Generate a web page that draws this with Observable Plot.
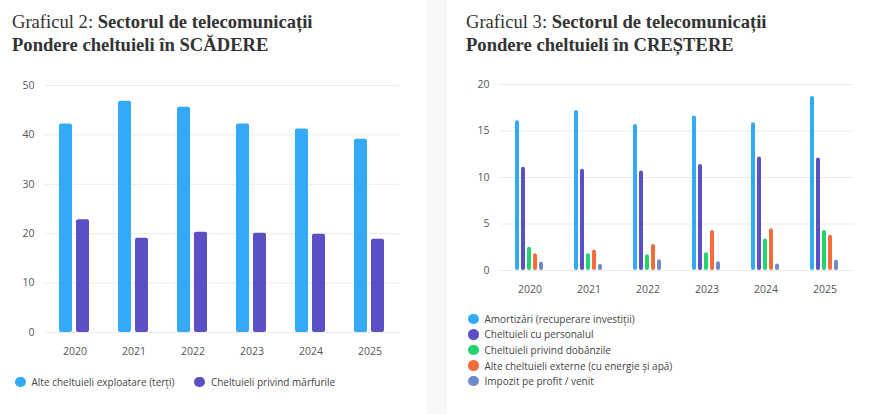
<!DOCTYPE html>
<html lang="ro">
<head>
<meta charset="utf-8">
<script src="https://cdn.jsdelivr.net/npm/d3@7"></script>
<script src="https://cdn.jsdelivr.net/npm/@observablehq/plot@0.6"></script>
<style>
  html, body { margin: 0; padding: 0; }
  body { width: 870px; height: 414px; background: #f7f7f7; position: relative; overflow: hidden; font-family: "Open Sans", "Noto Sans", sans-serif; }
  .panel { position: absolute; top: 0; height: 414px; background: #fff; }
  #left { left: 0; width: 427px; }
  #right { left: 447px; width: 423px; }
  .title { position: absolute; font-family: "Liberation Serif", "Times New Roman", serif; font-size: 18.6px; line-height: 23px; color: #333; white-space: nowrap; }
  .title b { font-weight: bold; }
  #left .title { left: 12px; top: 10px; }
  #right .title { left: 19px; top: 10px; }
  .chart { position: absolute; top: 70px; left: 0; }
  .legend { position: absolute; font-size: 10px; color: #444; }
  .legend .item { display: flex; align-items: center; white-space: nowrap; }
  .legend .dot { width: 10.5px; height: 10.5px; border-radius: 50%; margin-right: 6px; flex: none; }
  #left .legend { left: 15px; top: 375px; display: flex; }
  #left .legend .item { margin-right: 20px; }
  #right .legend { left: 21px; top: 311px; }
  #right .legend .item { height: 15.6px; }
</style>
</head>
<body>
<div class="panel" id="left">
  <div class="title">Graficul 2: <b>Sectorul de telecomunicații<br>Pondere cheltuieli în SCĂDERE</b></div>
  <div class="chart" id="chart2"></div>
  <div class="legend" id="legend2"></div>
</div>
<div class="panel" id="right">
  <div class="title">Graficul 3: <b>Sectorul de telecomunicații<br>Pondere cheltuieli în CREȘTERE</b></div>
  <div class="chart" id="chart3"></div>
  <div class="legend" id="legend3"></div>
</div>
<script>
// Years shared by both charts
const years = ["2020", "2021", "2022", "2023", "2024", "2025"];

// Graficul 2: expense shares that decreased (%)
const seriesDown = ["Alte cheltuieli exploatare (terți)", "Cheltuieli privind mărfurile"];
const colorsDown = ["#33aaf8", "#5a4fc4"];
const alteExploatare = [42.2, 46.8, 45.6, 42.2, 41.2, 39.1];
const marfuri = [22.8, 19.1, 20.3, 20.1, 19.9, 18.9];
const ticksDown = [0, 10, 20, 30, 40, 50];

// Graficul 3: expense shares that increased (%)
const seriesUp = [
  "Amortizări (recuperare investiții)",
  "Cheltuieli cu personalul",
  "Cheltuieli privind dobânzile",
  "Alte cheltuieli externe (cu energie și apă)",
  "Impozit pe profit / venit"
];
const colorsUp = ["#33aaf8", "#5a4fc4", "#22d46e", "#f56b3a", "#6d8bc6"];
const amortizari = [16.1, 17.2, 15.7, 16.6, 15.9, 18.7];
const personal = [11.1, 10.9, 10.7, 11.4, 12.2, 12.1];
const dobanzi = [2.5, 1.8, 1.7, 1.9, 3.4, 4.3];
const energie = [1.8, 2.2, 2.8, 4.3, 4.5, 3.8];
const impozit = [0.9, 0.65, 1.15, 0.95, 0.7, 1.1];
const ticksUp = [0, 5, 10, 15, 20];

function toRows(series, columns) {
  const rows = [];
  years.forEach((year, i) => {
    series.forEach((name, j) => rows.push({year, series: name, value: columns[j][i]}));
  });
  return rows;
}

const font = {fontFamily: "'Open Sans', 'Noto Sans', sans-serif", fontSize: "10.5px", color: "#555", background: "transparent", overflow: "visible"};

// Grouped bars: one facet per year, one bar per series inside each facet
function groupedBars({rows, series, colors, ticks, yMax, width, height, marginLeft, marginRight, marginTop, marginBottom, xPadInner, xPadOuter, rx}) {
  return Plot.plot({
    width, height, marginLeft, marginRight, marginTop, marginBottom,
    style: font,
    facet: {data: rows, x: "year"},
    fx: {domain: years, padding: 0, axis: "bottom", label: null, tickSize: 0, tickPadding: 15},
    x: {domain: series, axis: null, paddingInner: xPadInner, paddingOuter: xPadOuter},
    y: {domain: [0, yMax], ticks, label: null, tickSize: 0, tickPadding: 11},
    color: {domain: series, range: colors},
    marks: [
      Plot.ruleY(ticks, {stroke: "#ececec", strokeWidth: 1}),
      Plot.barY(rows, {x: "series", y: "value", fill: "series", rx})
    ]
  });
}

function legend(el, series, colors) {
  series.forEach((name, i) => {
    const item = document.createElement("div");
    item.className = "item";
    const dot = document.createElement("span");
    dot.className = "dot";
    dot.style.background = colors[i];
    const label = document.createElement("span");
    label.textContent = name;
    item.append(dot, label);
    el.append(item);
  });
}

const chart2 = groupedBars({
  rows: toRows(seriesDown, [alteExploatare, marfuri]),
  series: seriesDown, colors: colorsDown, ticks: ticksDown, yMax: 50,
  width: 427, height: 292, marginLeft: 44, marginRight: 27, marginTop: 15, marginBottom: 30,
  xPadInner: 0.222, xPadOuter: 0.76, rx: 2
});
document.getElementById("chart2").append(chart2);
legend(document.getElementById("legend2"), seriesDown, colorsDown);

const chart3 = groupedBars({
  rows: toRows(seriesUp, [amortizari, personal, dobanzi, energie, impozit]),
  series: seriesUp, colors: colorsUp, ticks: ticksUp, yMax: 20,
  width: 423, height: 230, marginLeft: 52, marginRight: 16, marginTop: 14, marginBottom: 30,
  xPadInner: 0.286, xPadOuter: 1.86, rx: 2
});
document.getElementById("chart3").append(chart3);
legend(document.getElementById("legend3"), seriesUp, colorsUp);
</script>
</body>
</html>
